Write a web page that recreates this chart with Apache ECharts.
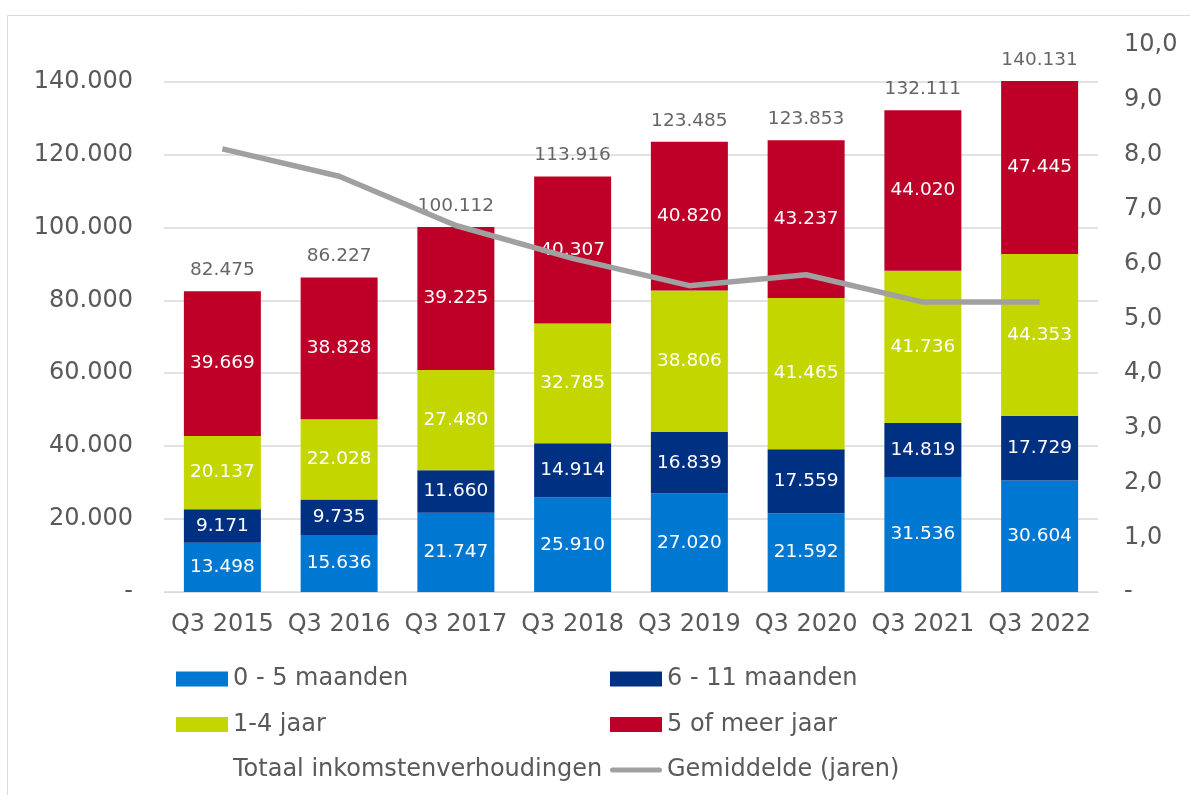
<!DOCTYPE html>
<html>
<head>
<meta charset="utf-8">
<title>Inkomstenverhoudingen</title>
<script src="https://cdn.jsdelivr.net/npm/echarts@6/dist/echarts.min.js"></script>
<style>
    html, body { margin: 0; padding: 0; background: #fff; }
    #chart { width: 1190px; height: 795px; }
</style>
</head>
<body>
<div id="chart"></div>
<script>
// 数据
var categories = ['Q3 2015', 'Q3 2016', 'Q3 2017', 'Q3 2018', 'Q3 2019', 'Q3 2020', 'Q3 2021', 'Q3 2022'];
var maanden0_5 = [13498, 15636, 21747, 25910, 27020, 21592, 31536, 30604];
var maanden6_11 = [9171, 9735, 11660, 14914, 16839, 17559, 14819, 17729];
var jaar1_4 = [20137, 22028, 27480, 32785, 38806, 41465, 41736, 44353];
var jaar5plus = [39669, 38828, 39225, 40307, 40820, 43237, 44020, 47445];
var totaal = [82475, 86227, 100112, 113916, 123485, 123853, 132111, 140131];
var gemiddelde = [8.1, 7.6, 6.7, 6.1, 5.6, 5.8, 5.3, 5.3];

var FONT = 'DejaVu Sans';
var GREY_TXT = '#595959';

// 123456 -> 123.456
function fmt(v) {
    return String(v).replace(/\B(?=(\d{3})+(?!\d))/g, '.');
}

function barSeries(name, data, color) {
    return {
        name: name,
        type: 'bar',
        stack: 'totaal',
        barWidth: 77,
        data: data,
        itemStyle: { color: color },
        label: {
            show: true,
            position: 'inside',
            color: '#fff',
            fontFamily: FONT,
            fontSize: 18.5,
            formatter: function (p) { return fmt(p.value); }
        }
    };
}

var legendText = { color: GREY_TXT, fontSize: 24, fontFamily: FONT, lineHeight: 26 };
// dikke grijze lijn als legenda-icoon (M-punten houden de hoogte op 15)
var lineIcon = 'path://M0,0 M2.5,5 L49.5,5 A2.5,2.5 0 0 1 49.5,10 L2.5,10 A2.5,2.5 0 0 1 2.5,5 Z M52,15';

var option = {
    animation: false,
    textStyle: { fontFamily: FONT },
    graphic: [{
        type: 'rect',
        shape: { x: 7.5, y: 15.5, width: 1200, height: 800 },
        style: { fill: 'none', stroke: '#d9d9d9', lineWidth: 1 },
        silent: true
    }],
    grid: {
        left: 164,
        right: 92,
        top: 45,
        bottom: 203
    },
    legend: [
        {
            orient: 'vertical',
            left: 176,
            top: 666,
            padding: 0,
            itemWidth: 52,
            itemHeight: 15,
            itemGap: 19.5,
            icon: 'rect',
            textStyle: legendText,
            data: [
                { name: '0 - 5 maanden' },
                { name: '1-4 jaar' },
                { name: 'Totaal inkomstenverhoudingen', icon: 'none' }
            ]
        },
        {
            orient: 'vertical',
            left: 610,
            top: 666,
            padding: 0,
            itemWidth: 52,
            itemHeight: 15,
            itemGap: 19.5,
            icon: 'rect',
            textStyle: legendText,
            data: [
                { name: '6 - 11 maanden' },
                { name: '5 of meer jaar' },
                { name: 'Gemiddelde (jaren)', icon: lineIcon }
            ]
        }
    ],
    xAxis: {
        type: 'category',
        data: categories,
        axisLine: { lineStyle: { color: '#d9d9d9', width: 1 } },
        axisTick: { show: false },
        axisLabel: { color: GREY_TXT, fontSize: 24, fontFamily: FONT, margin: 21, interval: 0 }
    },
    yAxis: [
        {
            type: 'value',
            min: 0,
            max: 150000,
            interval: 20000,
            axisLine: { show: false },
            axisTick: { show: false },
            axisLabel: {
                color: GREY_TXT,
                fontSize: 24,
                fontFamily: FONT,
                margin: 31,
                showMaxLabel: false,
                formatter: function (v) { return v === 0 ? '-' : fmt(v); }
            },
            splitLine: { show: true, showMaxLine: false, lineStyle: { color: '#d9d9d9', width: 1.5 } }
        },
        {
            type: 'value',
            min: 0,
            max: 10,
            interval: 1,
            axisLine: { show: false },
            axisTick: { show: false },
            splitLine: { show: false },
            axisLabel: {
                color: GREY_TXT,
                fontSize: 24,
                fontFamily: FONT,
                margin: 26,
                formatter: function (v) { return v === 0 ? '-' : v.toFixed(1).replace('.', ','); }
            }
        }
    ],
    series: [
        barSeries('0 - 5 maanden', maanden0_5, '#0078d2'),
        barSeries('6 - 11 maanden', maanden6_11, '#003082'),
        barSeries('1-4 jaar', jaar1_4, '#c4d600'),
        barSeries('5 of meer jaar', jaar5plus, '#be0029'),
        {
            // totaal boven de staaf
            name: 'Totaal inkomstenverhoudingen',
            type: 'scatter',
            data: totaal,
            symbolSize: 1,
            itemStyle: { color: 'rgba(0,0,0,0)' },
            label: {
                show: true,
                position: 'top',
                distance: 11,
                color: '#404040',
                fontFamily: FONT,
                fontSize: 18.5,
                formatter: function (p) { return fmt(p.value); }
            }
        },
        {
            name: 'Gemiddelde (jaren)',
            type: 'line',
            yAxisIndex: 1,
            data: gemiddelde,
            symbol: 'none',
            lineStyle: { color: '#a0a0a0', width: 5.5 },
            itemStyle: { color: '#a0a0a0' }
        }
    ]
};

var chart = echarts.init(document.getElementById('chart'));
chart.setOption(option);
</script>
</body>
</html>
